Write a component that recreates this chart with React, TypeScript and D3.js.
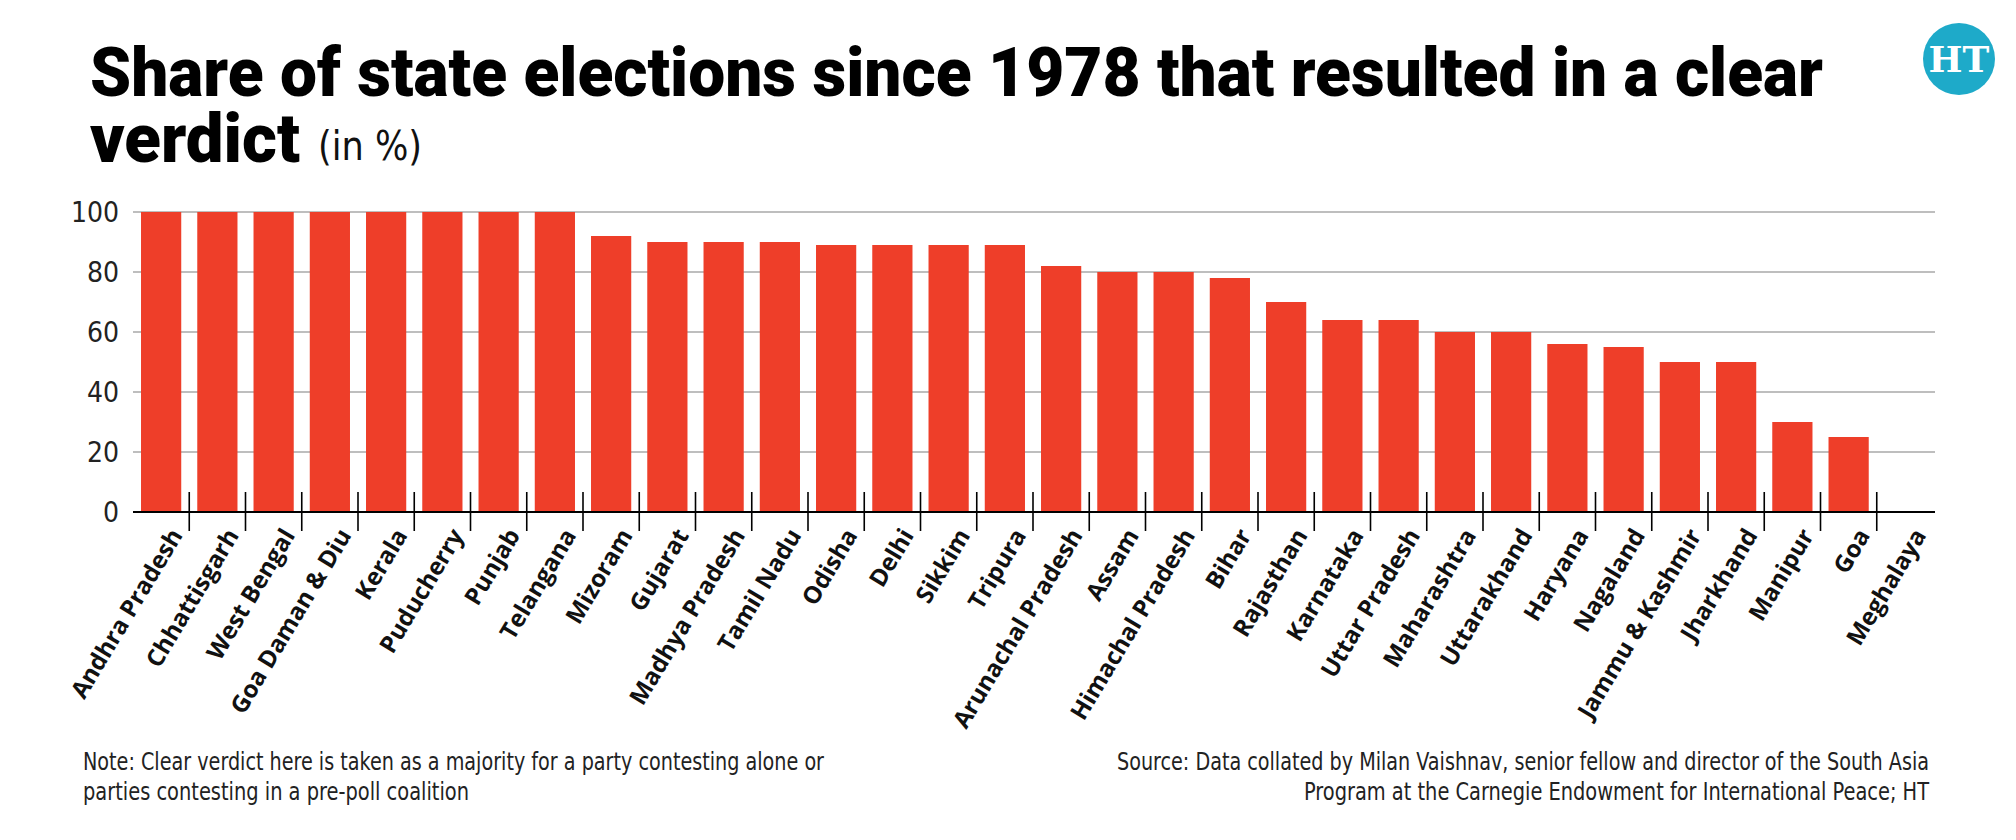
import React, { useEffect, useRef } from 'react'
import * as d3 from 'd3'

// state-wise share of elections with a clear verdict, in %
const states = [
  'Andhra Pradesh', 'Chhattisgarh', 'West Bengal', 'Goa Daman & Diu', 'Kerala',
  'Puducherry', 'Punjab', 'Telangana', 'Mizoram', 'Gujarat', 'Madhya Pradesh',
  'Tamil Nadu', 'Odisha', 'Delhi', 'Sikkim', 'Tripura', 'Arunachal Pradesh',
  'Assam', 'Himachal Pradesh', 'Bihar', 'Rajasthan', 'Karnataka', 'Uttar Pradesh',
  'Maharashtra', 'Uttarakhand', 'Haryana', 'Nagaland', 'Jammu & Kashmir',
  'Jharkhand', 'Manipur', 'Goa', 'Meghalaya'
]
const shares = [
  100, 100, 100, 100, 100,
  100, 100, 100, 92, 90, 90,
  90, 89, 89, 89, 89, 82,
  80, 80, 78, 70, 64, 64,
  60, 60, 56, 55, 50,
  50, 30, 25, 0
]
const yTicks = [0, 20, 40, 60, 80, 100]

const titleLine1 = 'Share of state elections since 1978 that resulted in a clear'
const titleLine2 = 'verdict'
const titleUnit = '(in %)'
const noteLines = [
  'Note: Clear verdict here is taken as a majority for a party contesting alone or',
  'parties contesting in a pre-poll coalition'
]
const sourceLines = [
  'Source: Data collated by Milan Vaishnav, senior fellow and director of the South Asia',
  'Program at the Carnegie Endowment for International Peace; HT'
]

const narrow = "'Liberation Sans Narrow', 'DejaVu Sans Condensed', 'Roboto', sans-serif"
const heavy = "'Roboto', 'Lato', sans-serif"
const labelFont = "'Open Sans', 'Noto Sans', sans-serif"

export default function App() {
  const ref = useRef<SVGSVGElement>(null)

  useEffect(() => {
    const svg = d3.select(ref.current)
    svg.selectAll('*').remove()

    const left = 133, right = 1933, bottom = 512, top = 212

    const x = d3.scaleBand<string>()
      .domain(states)
      .range([left, right])
      .paddingInner(0.285)
      .paddingOuter(0.1425)

    const y = d3.scaleLinear()
      .domain([0, 100])
      .range([bottom, top])

    // title
    svg.append('text')
      .attr('x', 90).attr('y', 96)
      .attr('textLength', 1733).attr('lengthAdjust', 'spacingAndGlyphs')
      .style('font-family', heavy).style('font-weight', 900)
      .style('font-size', '69px').style('fill', '#000')
      .text(titleLine1)
    svg.append('text')
      .attr('x', 90).attr('y', 162)
      .attr('textLength', 210).attr('lengthAdjust', 'spacingAndGlyphs')
      .style('font-family', heavy).style('font-weight', 900)
      .style('font-size', '69px').style('fill', '#000')
      .text(titleLine2)
    svg.append('text')
      .attr('x', 318).attr('y', 160)
      .attr('textLength', 104).attr('lengthAdjust', 'spacingAndGlyphs')
      .style('font-family', narrow).style('font-weight', 400)
      .style('font-size', '40px').style('fill', '#111')
      .text(titleUnit)

    // HT badge
    const badge = svg.append('g').attr('transform', 'translate(1959,59)')
    badge.append('circle').attr('r', 36).style('fill', '#1eaac9')
    badge.append('text')
      .attr('text-anchor', 'middle').attr('dy', '0.36em')
      .style('font-family', "'DejaVu Serif', serif").style('font-weight', 700)
      .style('font-size', '36px').style('fill', '#fff')
      .text('HT')

    // gridlines and y labels
    const grid = svg.append('g')
    grid.selectAll('line')
      .data(yTicks.filter(d => d > 0))
      .enter().append('line')
      .attr('x1', left).attr('x2', right + 2)
      .attr('y1', d => y(d)).attr('y2', d => y(d))
      .style('stroke', '#a9a9a9').style('stroke-width', 1.6)

    svg.append('g').selectAll('text')
      .data(yTicks)
      .enter().append('text')
      .attr('x', 119).attr('y', d => y(d))
      .attr('dy', '0.36em').attr('text-anchor', 'end')
      .style('font-family', narrow).style('font-size', '28px').style('fill', '#222')
      .text(d => d)

    // bars
    svg.append('g').selectAll('rect')
      .data(states)
      .enter().append('rect')
      .attr('x', d => x(d) as number)
      .attr('y', (d, i) => y(shares[i]))
      .attr('width', x.bandwidth())
      .attr('height', (d, i) => bottom - y(shares[i]))
      .style('fill', '#ee3e29')

    // baseline and category separators
    svg.append('line')
      .attr('x1', left).attr('x2', right + 2)
      .attr('y1', bottom).attr('y2', bottom)
      .style('stroke', '#000').style('stroke-width', 2)

    const gap = (x.step() - x.bandwidth()) / 2
    svg.append('g').selectAll('line')
      .data(states.slice(1))
      .enter().append('line')
      .attr('x1', d => (x(d) as number) - gap)
      .attr('x2', d => (x(d) as number) - gap)
      .attr('y1', bottom - 20).attr('y2', bottom + 19)
      .style('stroke', '#000').style('stroke-width', 1.6)

    // rotated state names
    svg.append('g').selectAll('text')
      .data(states)
      .enter().append('text')
      .attr('transform', d =>
        'translate(' + ((x(d) as number) + x.bandwidth() / 2 + 15) + ',' + (bottom + 19) + ') rotate(-59)')
      .attr('dy', '0.35em').attr('text-anchor', 'end')
      .style('font-family', labelFont).style('font-weight', 700)
      .style('font-size', '24px').style('fill', '#111')
      .text(d => d)

    // footnotes
    const widthsNote = [741, 386]
    noteLines.forEach((t, i) => {
      svg.append('text')
        .attr('x', 83).attr('y', 770 + i * 30)
        .attr('textLength', widthsNote[i]).attr('lengthAdjust', 'spacingAndGlyphs')
        .style('font-family', narrow).style('font-size', '25px').style('fill', '#222')
        .text(t)
    })
    const widthsSource = [812, 625]
    sourceLines.forEach((t, i) => {
      svg.append('text')
        .attr('x', 1929 - widthsSource[i]).attr('y', 770 + i * 30)
        .attr('textLength', widthsSource[i]).attr('lengthAdjust', 'spacingAndGlyphs')
        .style('font-family', narrow).style('font-size', '25px').style('fill', '#222')
        .text(t)
    })
  }, [])

  return (
    <div style={{ position: 'absolute', left: 0, top: 0 }}>
      <svg ref={ref} width={2016} height={840} style={{ background: '#fff', display: 'block' }} />
    </div>
  )
}
